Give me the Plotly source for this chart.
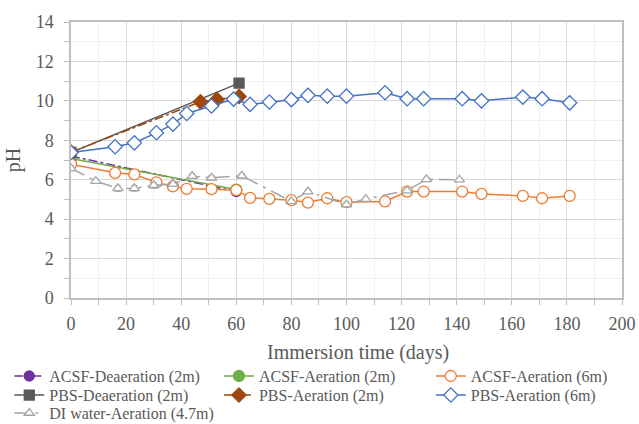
import plotly.graph_objects as go

# ---------------- data ----------------
days_acsf_deaer = [0, 60]
ph_acsf_deaer = [7.2, 5.4]

days_acsf_aer2 = [0, 60]
ph_acsf_aer2 = [7.08, 5.5]

days_acsf_aer6 = [0, 16, 23, 31, 37, 42, 51, 60, 65, 72, 80, 86, 93, 100, 114, 122, 128, 142, 149, 164, 171, 181]
ph_acsf_aer6 = [6.79, 6.35, 6.27, 5.86, 5.66, 5.54, 5.52, 5.47, 5.08, 5.03, 4.96, 4.84, 5.06, 4.86, 4.90, 5.40, 5.40, 5.40, 5.28, 5.18, 5.06, 5.18]

days_pbs_deaer = [0, 61]
ph_pbs_deaer = [7.38, 10.9]

days_pbs_aer2 = [0, 47, 53, 61]
ph_pbs_aer2 = [7.4, 9.95, 10.07, 10.22]

days_pbs_aer6 = [0, 16, 23, 31, 37, 42, 51, 59, 65, 72, 80, 86, 93, 100, 114, 122, 128, 142, 149, 164, 171, 181]
ph_pbs_aer6 = [7.38, 7.67, 7.87, 8.38, 8.82, 9.36, 9.74, 10.09, 9.82, 9.94, 10.06, 10.28, 10.24, 10.24, 10.41, 10.11, 10.11, 10.11, 10.0, 10.19, 10.11, 9.90]

days_di = [0, 9, 17, 23, 30, 37, 44, 51, 62, 80, 86, 100, 107, 122, 129, 141]
ph_di = [6.58, 5.93, 5.56, 5.56, 5.72, 5.78, 6.18, 6.10, 6.20, 4.90, 5.40, 4.74, 5.02, 5.45, 6.02, 6.00]
err_di = [0.12, 0.10, 0.15, 0.15, 0.15, 0.12, 0.12, 0.10, 0.10, 0.10, 0.10, 0.12, 0.05, 0.05, 0.05, 0.05]

x_ticks = [0, 20, 40, 60, 80, 100, 120, 140, 160, 180, 200]
y_ticks = [0, 2, 4, 6, 8, 10, 12, 14]

FONT = "Liberation Serif"
TXT = "#595959"

fig = go.Figure()

def add(x, y, name, color, dash, symbol, size, filled, legend, width=1.5, err=None):
    marker = dict(symbol=symbol, size=size, color=color if filled else "white",
                  line=dict(color=color, width=1.3))
    kw = {}
    if err is not None:
        kw["error_y"] = dict(type="data", array=err, visible=True, color=color, thickness=1, width=3)
    fig.add_trace(go.Scatter(x=x, y=y, name=name, mode="lines+markers",
                             line=dict(color=color, width=width, dash=dash),
                             marker=marker, legend=legend, **kw))

add(days_acsf_deaer, ph_acsf_deaer, "ACSF-Deaeration (2m)", "#7030A0", "dashdot", "circle", 10, True, "legend")
add(days_acsf_aer2, ph_acsf_aer2, "ACSF-Aeration (2m)", "#70AD47", "solid", "circle", 11, True, "legend2")
add(days_acsf_aer6, ph_acsf_aer6, "ACSF-Aeration (6m)", "#ED7D31", "solid", "circle", 11, False, "legend3")
add(days_pbs_deaer, ph_pbs_deaer, "PBS-Deaeration (2m)", "#595959", "solid", "square", 10, True, "legend4")
add(days_pbs_aer2, ph_pbs_aer2, "PBS-Aeration (2m)", "#9E480E", "dashdot", "diamond", 11, True, "legend5")
add(days_pbs_aer6, ph_pbs_aer6, "PBS-Aeration (6m)", "#4472C4", "solid", "diamond", 11, False, "legend6")
add(days_di, ph_di, "DI water-Aeration (4.7m)", "#A5A5A5", "longdashdot", "triangle-up", 9, False, "legend7", err=err_di)

# legend placement (paper coords)
def lg(x, y):
    return dict(x=x, y=y, xanchor="left", yanchor="middle", bgcolor="rgba(0,0,0,0)",
                font=dict(family=FONT, size=16, color=TXT), itemwidth=30)

c1, c2, c3 = -0.112, 0.2685, 0.653
r1, r2, r3 = -0.283, -0.352, -0.417
fig.update_layout(
    legend=lg(c1, r1), legend2=lg(c2, r1), legend3=lg(c3, r1),
    legend4=lg(c1, r2), legend5=lg(c2, r2), legend6=lg(c3, r2),
    legend7=lg(c1, r3),
)

fig.update_xaxes(range=[0, 200], tickvals=x_ticks, ticks="outside", ticklen=5, tickcolor="#bfbfbf",
                 ticklabelstandoff=4,
                 showgrid=True, gridcolor="#d9d9d9", gridwidth=1,
                 minor=dict(dtick=10, showgrid=True, gridcolor="#f0f0f0", ticks="outside", ticklen=5, tickcolor="#bfbfbf"),
                 showline=True, linecolor="#bfbfbf", linewidth=1.5, mirror=True, zeroline=False,
                 tickfont=dict(family=FONT, size=18, color=TXT))
fig.update_yaxes(range=[0, 14], tickvals=y_ticks, ticks="outside", ticklen=5, tickcolor="#bfbfbf",
                 ticklabelstandoff=7,
                 showgrid=True, gridcolor="#d9d9d9", gridwidth=1,
                 minor=dict(dtick=1, showgrid=True, gridcolor="#f0f0f0", ticks="outside", ticklen=5, tickcolor="#bfbfbf"),
                 showline=True, linecolor="#bfbfbf", linewidth=1.5, mirror=True, zeroline=False,
                 tickfont=dict(family=FONT, size=18, color=TXT),
                 title=dict(text="pH", font=dict(family=FONT, size=20, color=TXT), standoff=10))

fig.add_annotation(text="Immersion time (days)", xref="paper", yref="paper", x=0.52, y=-0.196,
                   xanchor="center", yanchor="middle", showarrow=False,
                   font=dict(family=FONT, size=20, color=TXT))

fig.update_layout(width=639, height=424, plot_bgcolor="white", paper_bgcolor="white",
                  margin=dict(l=71, r=17, t=22, b=126, autoexpand=False),
                  font=dict(family=FONT, color=TXT), showlegend=True)

fig.write_html("out.html", config={"displayModeBar": False},
               post_script="document.body.style.margin='0';")
